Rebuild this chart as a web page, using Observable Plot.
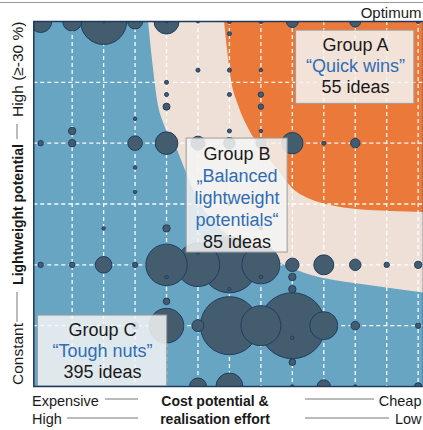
<!DOCTYPE html>
<html><head><meta charset="utf-8">
<script src="https://cdn.jsdelivr.net/npm/d3@7"></script>
<script src="https://cdn.jsdelivr.net/npm/@observablehq/plot@0.6"></script>
<style>
html,body{margin:0;padding:0;background:#fff;}
svg{display:block;}
</style></head><body><div id="chart"></div>
<script>
// ---- data (x = cost-potential column 0..12, y = lightweight potential %, size = bubble size)
const bubbleCol = [0,0,0, 1,1,1,1, 2,2,2,2,2, 3,3,3,3,3,3,3, 4,4,4,4,4,4,4,4,4,4,4, 5,5,5,5,5,5,5,
  6,6,6,6,6,6,6,6,6,6,6, 7,7,7,7,7,7,7,7,7,7, 8,8,8,8,8,8,8,8,8, 9,9,9,9, 10,10,10,10,10, 11, 12,12,12,12];
const bubblePct = [30,20,10, 30,21,20,10, 30,30,13,10,5, 30,22,20,18,16,10,5, 30,30,25,24,23,20,13,10,9,7,5, 30,26,20,11,10,5,0,
  30,29,26,24,21,20,15,10,8,5,0, 30,26,24,23,21,20,13,10,9,5, 30,20,10,9,8,5,4,2,0, 20,10,5,0, 30,20,10,5,0, 10, 30,10,5,0];
const bubbleSize = [11,2.7,2.7, 9.5,3.7,3.7,2.7, 23,1.5,1.7,8.3,1.5, 7.5,1.7,7.3,1.7,1.7,2.7,3.3, 12.5,1.5,2,2,3.5,11.3,3.7,20.7,1.7,3.3,17.3, 1.5,2,7,1.5,21.7,6,8.5,
  2,2,2,2,2,5.7,1.5,28,1.7,29,13.5, 2,1.7,2.7,2.7,1.7,5,1.5,19,1.7,20, 6,10.7,6.7,3.7,3.7,33,1.7,3.3,1.7, 2,10,14,6.7, 5.5,4.7,5.7,4.3,1.7, 2.7, 2,3.7,2.7,3.7];

// background region boundaries (x in columns, y in %)
const orangeEdgeX = [5.844,5.94,6.067,6.29,6.607,7.052,7.561,8.006,8.579,9.214,10.041,11.122,12.3];
const orangeEdgeY = [30,27.61,25.14,23.09,21.2,19.39,17.75,16.27,15.37,14.87,14.54,14.38,14.3];
const beigeEdgeX = [3.428,3.555,3.714,3.936,4.286,4.604,5.017,5.717,6.671,7.625,8.611,9.978,11.122,12.3];
const beigeEdgeY = [30,26.79,23.5,21.45,19.8,17.75,15.28,12.98,11.34,10.11,9.12,8.46,8.05,7.64];

const gridX = [1,2,3,4,5,6,7,8,9,10,11,12];
const gridY = [5,10,15,20,25];

// annotation boxes
const boxes = [
  {x1: 8.12, x2: 11.88, y1: 29.25, y2: 23.23},
  {x1: 4.64, x2: 7.85, y1: 20.38, y2: 11.01},
  {x1: -0.09, x2: 4.02, y1: 5.83, y2: 0}
];
const boxText = [
  {x: 10.01, y: 28.05, t: "Group A", c: "#1a1a1a"},
  {x: 10.01, y: 26.35, t: "“Quick wins”", c: "#2f6db5"},
  {x: 10.01, y: 24.6, t: "55 ideas", c: "#1a1a1a"},
  {x: 6.24, y: 19.1, t: "Group B", c: "#1a1a1a"},
  {x: 6.24, y: 17.29, t: "„Balanced", c: "#2f6db5"},
  {x: 6.24, y: 15.48, t: "lightweight", c: "#2f6db5"},
  {x: 6.24, y: 13.67, t: "potentials“", c: "#2f6db5"},
  {x: 6.24, y: 11.87, t: "85 ideas", c: "#1a1a1a"},
  {x: 1.965, y: 4.63, t: "Group C", c: "#1a1a1a"},
  {x: 1.965, y: 2.93, t: "“Tough nuts”", c: "#2f6db5"},
  {x: 1.965, y: 1.16, t: "395 ideas", c: "#1a1a1a"}
];

const bubbles = bubbleCol.map((c, i) => ({x: c, y: bubblePct[i], s: bubbleSize[i]}))
  .sort((a, b) => b.s - a.s);
const orangeEdge = orangeEdgeX.map((x, i) => ({x, y: orangeEdgeY[i]}));
const beigeEdge = beigeEdgeX.map((x, i) => ({x, y: beigeEdgeY[i]}));

const FONT = "'Liberation Sans', Arial, sans-serif";
const BLUE_BG = "#68a5c3", BEIGE = "#eee0d7", ORANGE = "#eb7a3a";
const BUB_FILL = "#445d6e", BUB_STROKE = "#1e3d62", NAVY = "#1e3a5c";

const svg = Plot.plot({
  width: 423, height: 430,
  marginLeft: 33.3, marginRight: 0, marginTop: 21, marginBottom: 44,
  style: {fontFamily: FONT, background: "#fff", overflow: "hidden"},
  x: {domain: [-0.22, 12.17], axis: null},
  y: {domain: [0, 30], axis: null},
  r: {type: "linear", domain: [0, 40], range: [0, 40]},
  marks: [
    Plot.frame({fill: BLUE_BG}),
    Plot.areaY(beigeEdge, {x: "x", y1: "y", y2: 30, fill: BEIGE, curve: "monotone-x", clip: true}),
    Plot.areaY(orangeEdge, {x: "x", y1: "y", y2: 30, fill: ORANGE, curve: "monotone-x", clip: true}),
    Plot.ruleX(gridX, {stroke: "#fff", strokeWidth: 1.3, strokeDasharray: "4,3", strokeOpacity: 0.95}),
    Plot.ruleY(gridY, {stroke: "#fff", strokeWidth: 1.3, strokeDasharray: "4,3", strokeOpacity: 0.95}),
    Plot.dot(bubbles, {x: "x", y: "y", r: "s", fill: BUB_FILL, stroke: BUB_STROKE, strokeWidth: 1, clip: true}),
    Plot.rect(boxes, {x1: "x1", x2: "x2", y1: "y1", y2: "y2", fill: "#f5f5f5", fillOpacity: 0.85, stroke: "#9c9c9c", strokeWidth: 1, clip: true}),
    Plot.text(boxText, {x: "x", y: "y", text: "t", fill: "c", fontSize: 18}),
    Plot.frame({stroke: NAVY, strokeWidth: 1.5})
  ]
});

const s = d3.select(svg);
const g = s.append("g").attr("font-family", FONT).attr("fill", "#1a1a1a");
g.append("line").attr("x1", 0).attr("x2", 423).attr("y1", 2.5).attr("y2", 2.5).attr("stroke", "#999").attr("stroke-width", 1.2);
g.append("text").attr("x", 421.5).attr("y", 18.3).attr("text-anchor", "end").attr("font-size", 15).text("Optimum");

// y axis title (rotated)
const yl = (y, anchor, txt, bold) => g.append("text")
  .attr("transform", `translate(22.5,${y}) rotate(-90)`)
  .attr("text-anchor", anchor).attr("font-size", bold ? 14 : 15.5)
  .attr("font-weight", bold ? "bold" : "normal").text(txt);
yl(385, "start", "Constant");
yl(214.5, "middle", "Lightweight potential", true);
yl(21.5, "end", "High (≥-30 %)");
const ln = (x1, y1, x2, y2) => g.append("line").attr("x1", x1).attr("y1", y1).attr("x2", x2).attr("y2", y2).attr("stroke", "#777").attr("stroke-width", 1);
ln(17, 292, 17, 322);
ln(17, 124, 17, 139);

// x axis title
const xt = (x, y, anchor, txt, bold) => g.append("text").attr("x", x).attr("y", y)
  .attr("text-anchor", anchor).attr("font-size", bold ? 14 : 14.5)
  .attr("font-weight", bold ? "bold" : "normal").text(txt);
xt(32, 405.7, "start", "Expensive");
xt(32, 424.3, "start", "High");
xt(215, 405.7, "middle", "Cost potential &", true);
xt(215, 424.3, "middle", "realisation effort", true);
xt(421.5, 405.7, "end", "Cheap");
xt(421.5, 424.3, "end", "Low");
ln(105, 399, 138, 399);
ln(67, 418, 138, 418);
ln(305, 399, 374, 399);
ln(305, 418, 389, 418);

document.getElementById("chart").appendChild(svg);
</script>
</body></html>
